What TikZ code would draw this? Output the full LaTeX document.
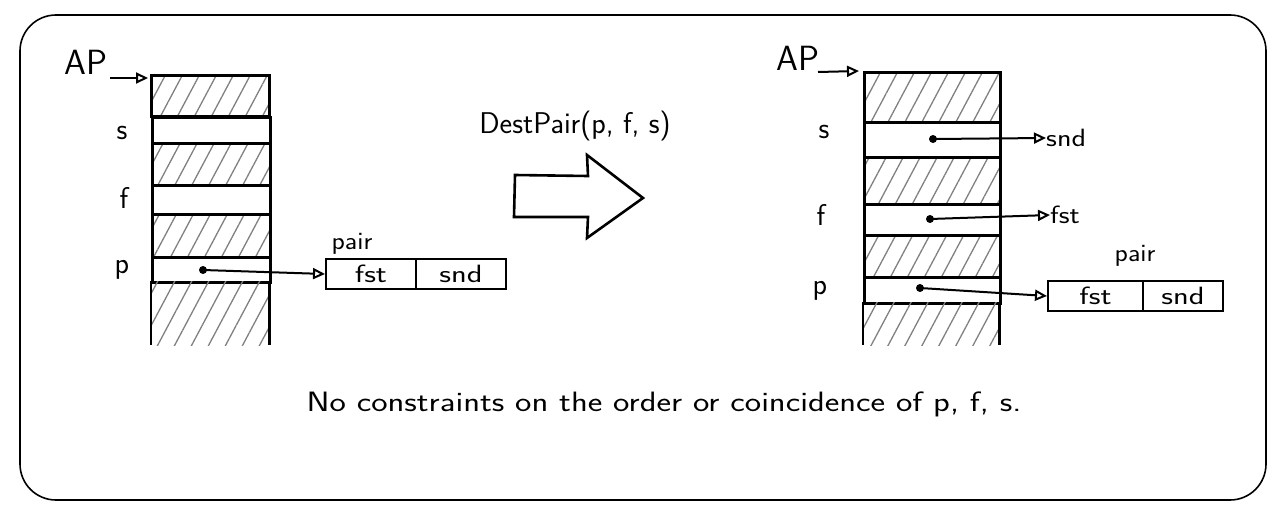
\documentclass[tikz,border=0pt]{standalone}
\usetikzlibrary{patterns.meta,arrows.meta}
\newcommand\hwtext[2][1.25]{\scalebox{#1}[1]{#2}}
\begin{document}
\begin{tikzpicture}[x=1pt,y=-1pt,
  hand/.style={font=\sffamily\fontsize{30}{32}\selectfont},
  small/.style={font=\sffamily\fontsize{25}{27}\selectfont},
  cell/.style={draw,line width=2.6pt,anchor=north west,inner sep=0pt},
  hatch/.style={pattern={Lines[angle=62,distance=15pt,line width=1.3pt]},pattern color=black!50},
  ptr/.style={line width=2pt,-{Triangle[open,length=12pt,width=11pt,line width=2pt]}},
  dotstart/.style={circle,fill,inner sep=0pt,minimum size=8pt},
  lbl/.style={hand,inner sep=0pt}]
\useasboundingbox (0,0) rectangle (1285,514);
\draw[line width=1.6pt,rounded corners=36pt] (20,15) rectangle (1266,500);
% ---------- left stack ----------
\node[cell,hatch,minimum width=118pt,minimum height=41pt] (L0) at (151,75) {};
\node[cell,minimum width=118pt,minimum height=26pt] (L1) at (151,116) {};
\node[cell,hatch,minimum width=118pt,minimum height=42pt] (L2) at (151,142) {};
\node[cell,minimum width=118pt,minimum height=29pt] (L3) at (151,184) {};
\node[cell,hatch,minimum width=118pt,minimum height=43pt] (L4) at (151,213) {};
\node[cell,minimum width=118pt,minimum height=25pt] (L5) at (151,256) {};
\node[anchor=north west,inner sep=0pt,hatch,minimum width=118pt,minimum height=64pt] (L6) at (151,281) {};
\draw[line width=2.6pt] (L6.north west) -- (L6.south west) (L6.north east) -- (L6.south east);
\node[lbl,font=\sffamily\fontsize{35}{36}\selectfont] (APl) at (86,62) {AP};
\node[lbl] (sl) at (122,133) {s};
\node[lbl] (fl) at (124,198) {f};
\node[lbl] (pl) at (122,270) {p};
\coordinate (apt) at ([xshift=-3pt,yshift=-3pt]L0.north west);
\draw[ptr] (110,78) -- (apt);
% left pair
\node[cell,line width=2pt,minimum width=90pt,minimum height=30pt] (Lfst) at (325,258) {};
\node[cell,line width=2pt,minimum width=90pt,minimum height=30pt] (Lsnd) at (415,258) {};
\node[lbl,small] at (Lfst.center) {\hwtext[1.3]{fst}};
\node[lbl,small] at (Lsnd.center) {\hwtext[1.3]{snd}};
\node[lbl,small] (Lpair) at (352,244) {\hwtext[1.1]{pair}};
\node[dotstart] (Lpd) at (203,270) {};
\draw[ptr] (Lpd.center) -- (Lfst.west);
% ---------- middle ----------
\node[lbl,font=\sffamily\fontsize{30}{32}\selectfont] (op) at (575,126) {DestPair(p, f, s)};
\draw[line width=2.6pt,line join=miter] (515,175) -- (588,176) -- (587,155) -- (643,198) -- (587,238) -- (588,217) -- (514,217) -- cycle;
% ---------- right stack ----------
\node[cell,hatch,minimum width=136pt,minimum height=50pt] (R0) at (863,71) {};
\node[cell,minimum width=136pt,minimum height=35pt] (R1) at (863,121) {};
\node[cell,hatch,minimum width=136pt,minimum height=47pt] (R2) at (863,156) {};
\node[cell,minimum width=136pt,minimum height=31pt] (R3) at (863,203) {};
\node[cell,hatch,minimum width=136pt,minimum height=42pt] (R4) at (863,234) {};
\node[cell,minimum width=136pt,minimum height=26pt] (R5) at (863,276) {};
\node[anchor=north west,inner sep=0pt,hatch,minimum width=136pt,minimum height=43pt] (R6) at (863,302) {};
\draw[line width=2.6pt] (R6.north west) -- (R6.south west) (R6.north east) -- (R6.south east);
\node[lbl,font=\sffamily\fontsize{35}{36}\selectfont] (APr) at (798,58) {AP};
\node[lbl] (sr) at (824,132) {s};
\node[lbl] (fr) at (821,215) {f};
\node[lbl] (pr) at (820,291) {p};
\coordinate (aprt) at ([xshift=-4pt]R0.north west);
\draw[ptr] (818,72) -- (aprt);
% right pair
\node[cell,line width=2pt,minimum width=95pt,minimum height=30pt] (Rfst) at (1047,280) {};
\node[cell,line width=2pt,minimum width=80pt,minimum height=30pt] (Rsnd) at (1142,280) {};
\node[lbl,small] at (Rfst.center) {\hwtext[1.3]{fst}};
\node[lbl,small] at (Rsnd.center) {\hwtext[1.3]{snd}};
\node[lbl,small] (Rpair) at (1135,256) {\hwtext[1.1]{pair}};
\node[dotstart] (Rsd) at (933,139) {};
\node[dotstart] (Rfd) at (930,219) {};
\node[dotstart] (Rpd) at (920,288) {};
\node[lbl,anchor=west,small] (snd) at (1046,138) {\hwtext[1.2]{snd}};
\node[lbl,anchor=west,small] (fst) at (1050,215) {\hwtext[1.2]{fst}};
\draw[ptr] (Rsd.center) -- (snd.west);
\draw[ptr] (Rfd.center) -- (fst.west);
\draw[ptr] (Rpd.center) -- (Rfst.west);
% ---------- bottom note ----------
\node[lbl,font=\sffamily\fontsize{28}{30}\selectfont] (note) at (664,404) {\hwtext[1.24]{No constraints on the order or coincidence of p, f, s.}};
\end{tikzpicture}
\end{document}
